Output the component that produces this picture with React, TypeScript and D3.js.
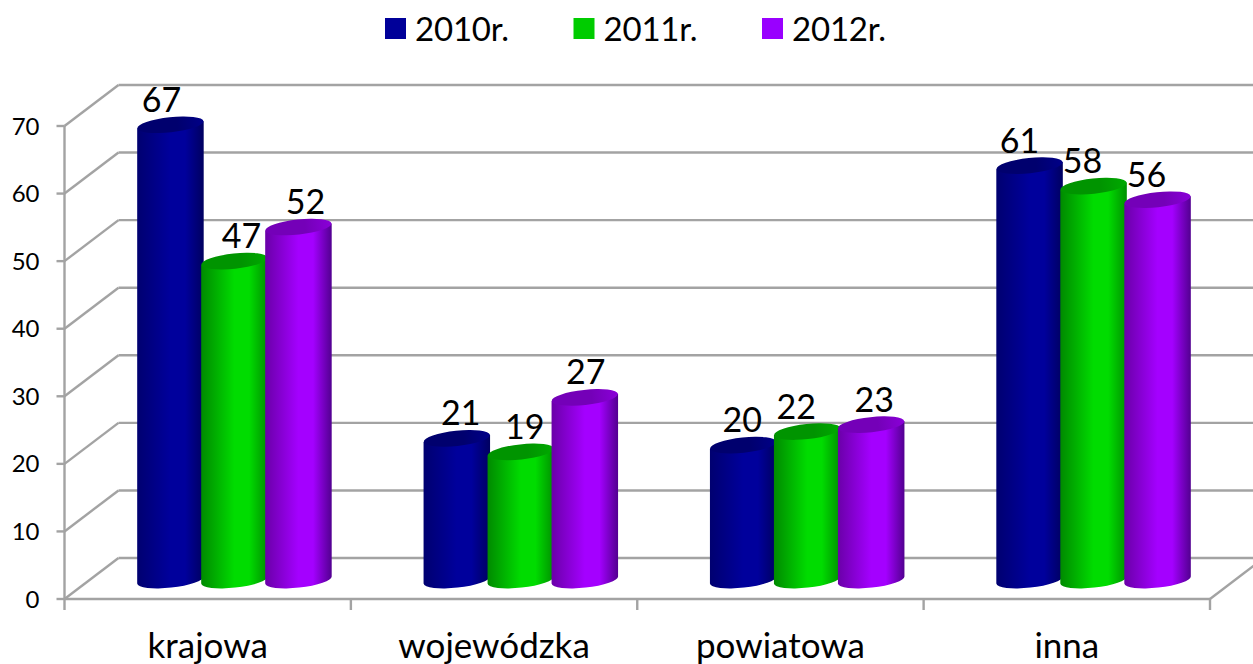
import * as d3 from 'd3'

const categories = ['krajowa', 'wojewódzka', 'powiatowa', 'inna']
const seriesNames = ['2010r.', '2011r.', '2012r.']
const values2010 = [67, 21, 20, 61]
const values2011 = [47, 19, 22, 58]
const values2012 = [52, 27, 23, 56]
const yTicks = [0, 10, 20, 30, 40, 50, 60, 70]

// label nudges, Excel placed these by hand
const labelNudge = [
  [-9, 7, 7],
  [4, 4, 1],
  [-1, -11, 3],
  [-10, -11, -11],
]

const colors = [
  { edgeL: '#000070', mid: '#00009c', edgeR: '#000060', top: '#00006e', topLight: '#000088', legend: '#000099' },
  { edgeL: '#008a00', mid: '#00dc00', edgeR: '#009000', top: '#009400', topLight: '#00aa00', legend: '#00cc00' },
  { edgeL: '#6a00a8', mid: '#a400ff', edgeR: '#520090', top: '#7400b8', topLight: '#8a00d8', legend: '#9900ff' },
]

const allSeries = [values2010, values2011, values2012]

const W = 1253
const H = 664
const FONT = 'Lato, sans-serif'
const GRID = '#a3a3a3'

export default function App() {
  const frontX0 = 64.5
  const frontX1 = 1210
  const depthX = 54
  const depthY = 41

  const yFront = d3.scaleLinear().domain([0, 70]).range([599, 126])
  const yBar = d3.scaleLinear().domain([0, 70]).range([581.5, 104.3])
  const yBase = 580
  const xCat = d3.scaleBand().domain(categories).range([frontX0, frontX1])
  const barStep = 64
  const barW = 66.5
  const barStart = (xCat.bandwidth() - barStep * 3) / 2 + 25.5

  const rx = barW / 2
  const ry = 7.6
  const tilt = 3.6
  const rot = (-Math.atan((2 * tilt) / barW) * 180) / Math.PI

  return (
    <svg
      width={W}
      height={H}
      viewBox={`0 0 ${W} ${H}`}
      style={{ position: 'absolute', left: 0, top: 0, display: 'block', background: '#fff' }}
      fontFamily={FONT}
    >
      <defs>
        {colors.map((c, i) => (
          <g key={i}>
            <linearGradient id={`body${i}`} x1="0" x2="1" y1="0" y2="0">
              <stop offset="0" stopColor={c.edgeL} />
              <stop offset="0.5" stopColor={c.mid} />
              <stop offset="0.72" stopColor={c.mid} />
              <stop offset="1" stopColor={c.edgeR} />
            </linearGradient>
            <linearGradient id={`cap${i}`} x1="0" x2="1" y1="0" y2="0">
              <stop offset="0" stopColor={c.top} />
              <stop offset="0.6" stopColor={c.top} />
              <stop offset="1" stopColor={c.topLight} />
            </linearGradient>
          </g>
        ))}
      </defs>

      {/* back wall + side wall gridlines */}
      {yTicks.map(t => (
        <g key={t} stroke={GRID} strokeWidth={2.4} fill="none">
          <line x1={frontX0 + depthX} x2={W + 5} y1={yFront(t) - depthY} y2={yFront(t) - depthY} />
          <line x1={frontX0} x2={frontX0 + depthX} y1={yFront(t)} y2={yFront(t) - depthY} />
          <line x1={frontX0 - 8} x2={frontX0} y1={yFront(t)} y2={yFront(t)} />
        </g>
      ))}

      {/* front axes */}
      <line x1={frontX0} x2={frontX0} y1={yFront(70)} y2={610} stroke={GRID} strokeWidth={2.4} />
      <line x1={frontX0} x2={frontX1} y1={yFront(0)} y2={yFront(0)} stroke={GRID} strokeWidth={2.4} />
      <line x1={frontX1} x2={frontX1 + depthX} y1={yFront(0)} y2={yFront(0) - depthY} stroke={GRID} strokeWidth={2.4} />
      {categories.map(c => (
        <line
          key={c}
          x1={(xCat(c) as number) + xCat.bandwidth()}
          x2={(xCat(c) as number) + xCat.bandwidth()}
          y1={yFront(0)}
          y2={610}
          stroke={GRID}
          strokeWidth={2.4}
        />
      ))}

      {/* y tick labels */}
      {yTicks.map(t => (
        <text key={t} x={39.5} y={yFront(t) + 8.5} textAnchor="end" fontSize={24} fill="#000">
          {t}
        </text>
      ))}

      {/* cylinders */}
      {categories.map((c, ci) => (
        <g key={c}>
          {allSeries.map((vals, si) => {
            const x0 = (xCat(c) as number) + barStart + si * barStep
            const x1 = x0 + barW
            const cx = (x0 + x1) / 2
            const yTop = yBar(vals[ci])
            const body = `M${x0},${yTop + tilt} L${x0},${yBase + tilt} A${rx},${ry} ${rot} 0 0 ${x1},${yBase - tilt} L${x1},${yTop - tilt} Z`
            return (
              <g key={si}>
                <path d={body} fill={`url(#body${si})`} />
                <ellipse
                  cx={cx}
                  cy={yTop}
                  rx={rx}
                  ry={ry}
                  transform={`rotate(${rot} ${cx} ${yTop})`}
                  fill={`url(#cap${si})`}
                />
              </g>
            )
          })}
        </g>
      ))}

      {/* data labels, on top of everything */}
      {categories.map((c, ci) =>
        allSeries.map((vals, si) => {
          const cx = (xCat(c) as number) + barStart + si * barStep + barW / 2
          return (
            <text
              key={`${c}${si}`}
              x={cx + labelNudge[ci][si]}
              y={yBar(vals[ci]) - 13}
              textAnchor="middle"
              fontSize={34}
              fill="#000"
            >
              {vals[ci]}
            </text>
          )
        })
      )}

      {/* category labels */}
      {categories.map(c => (
        <text
          key={c}
          x={(xCat(c) as number) + xCat.bandwidth() / 2}
          y={657.5}
          textAnchor="middle"
          fontSize={35}
          fill="#000"
        >
          {c}
        </text>
      ))}

      {/* legend */}
      {seriesNames.map((s, i) => (
        <g key={s} transform={`translate(${385 + i * 188.5},18)`}>
          <rect width={21} height={21} fill={colors[i].legend} />
          <text x={30} y={23} fontSize={33} letterSpacing={-0.2} fill="#000">
            {s}
          </text>
        </g>
      ))}
    </svg>
  )
}
